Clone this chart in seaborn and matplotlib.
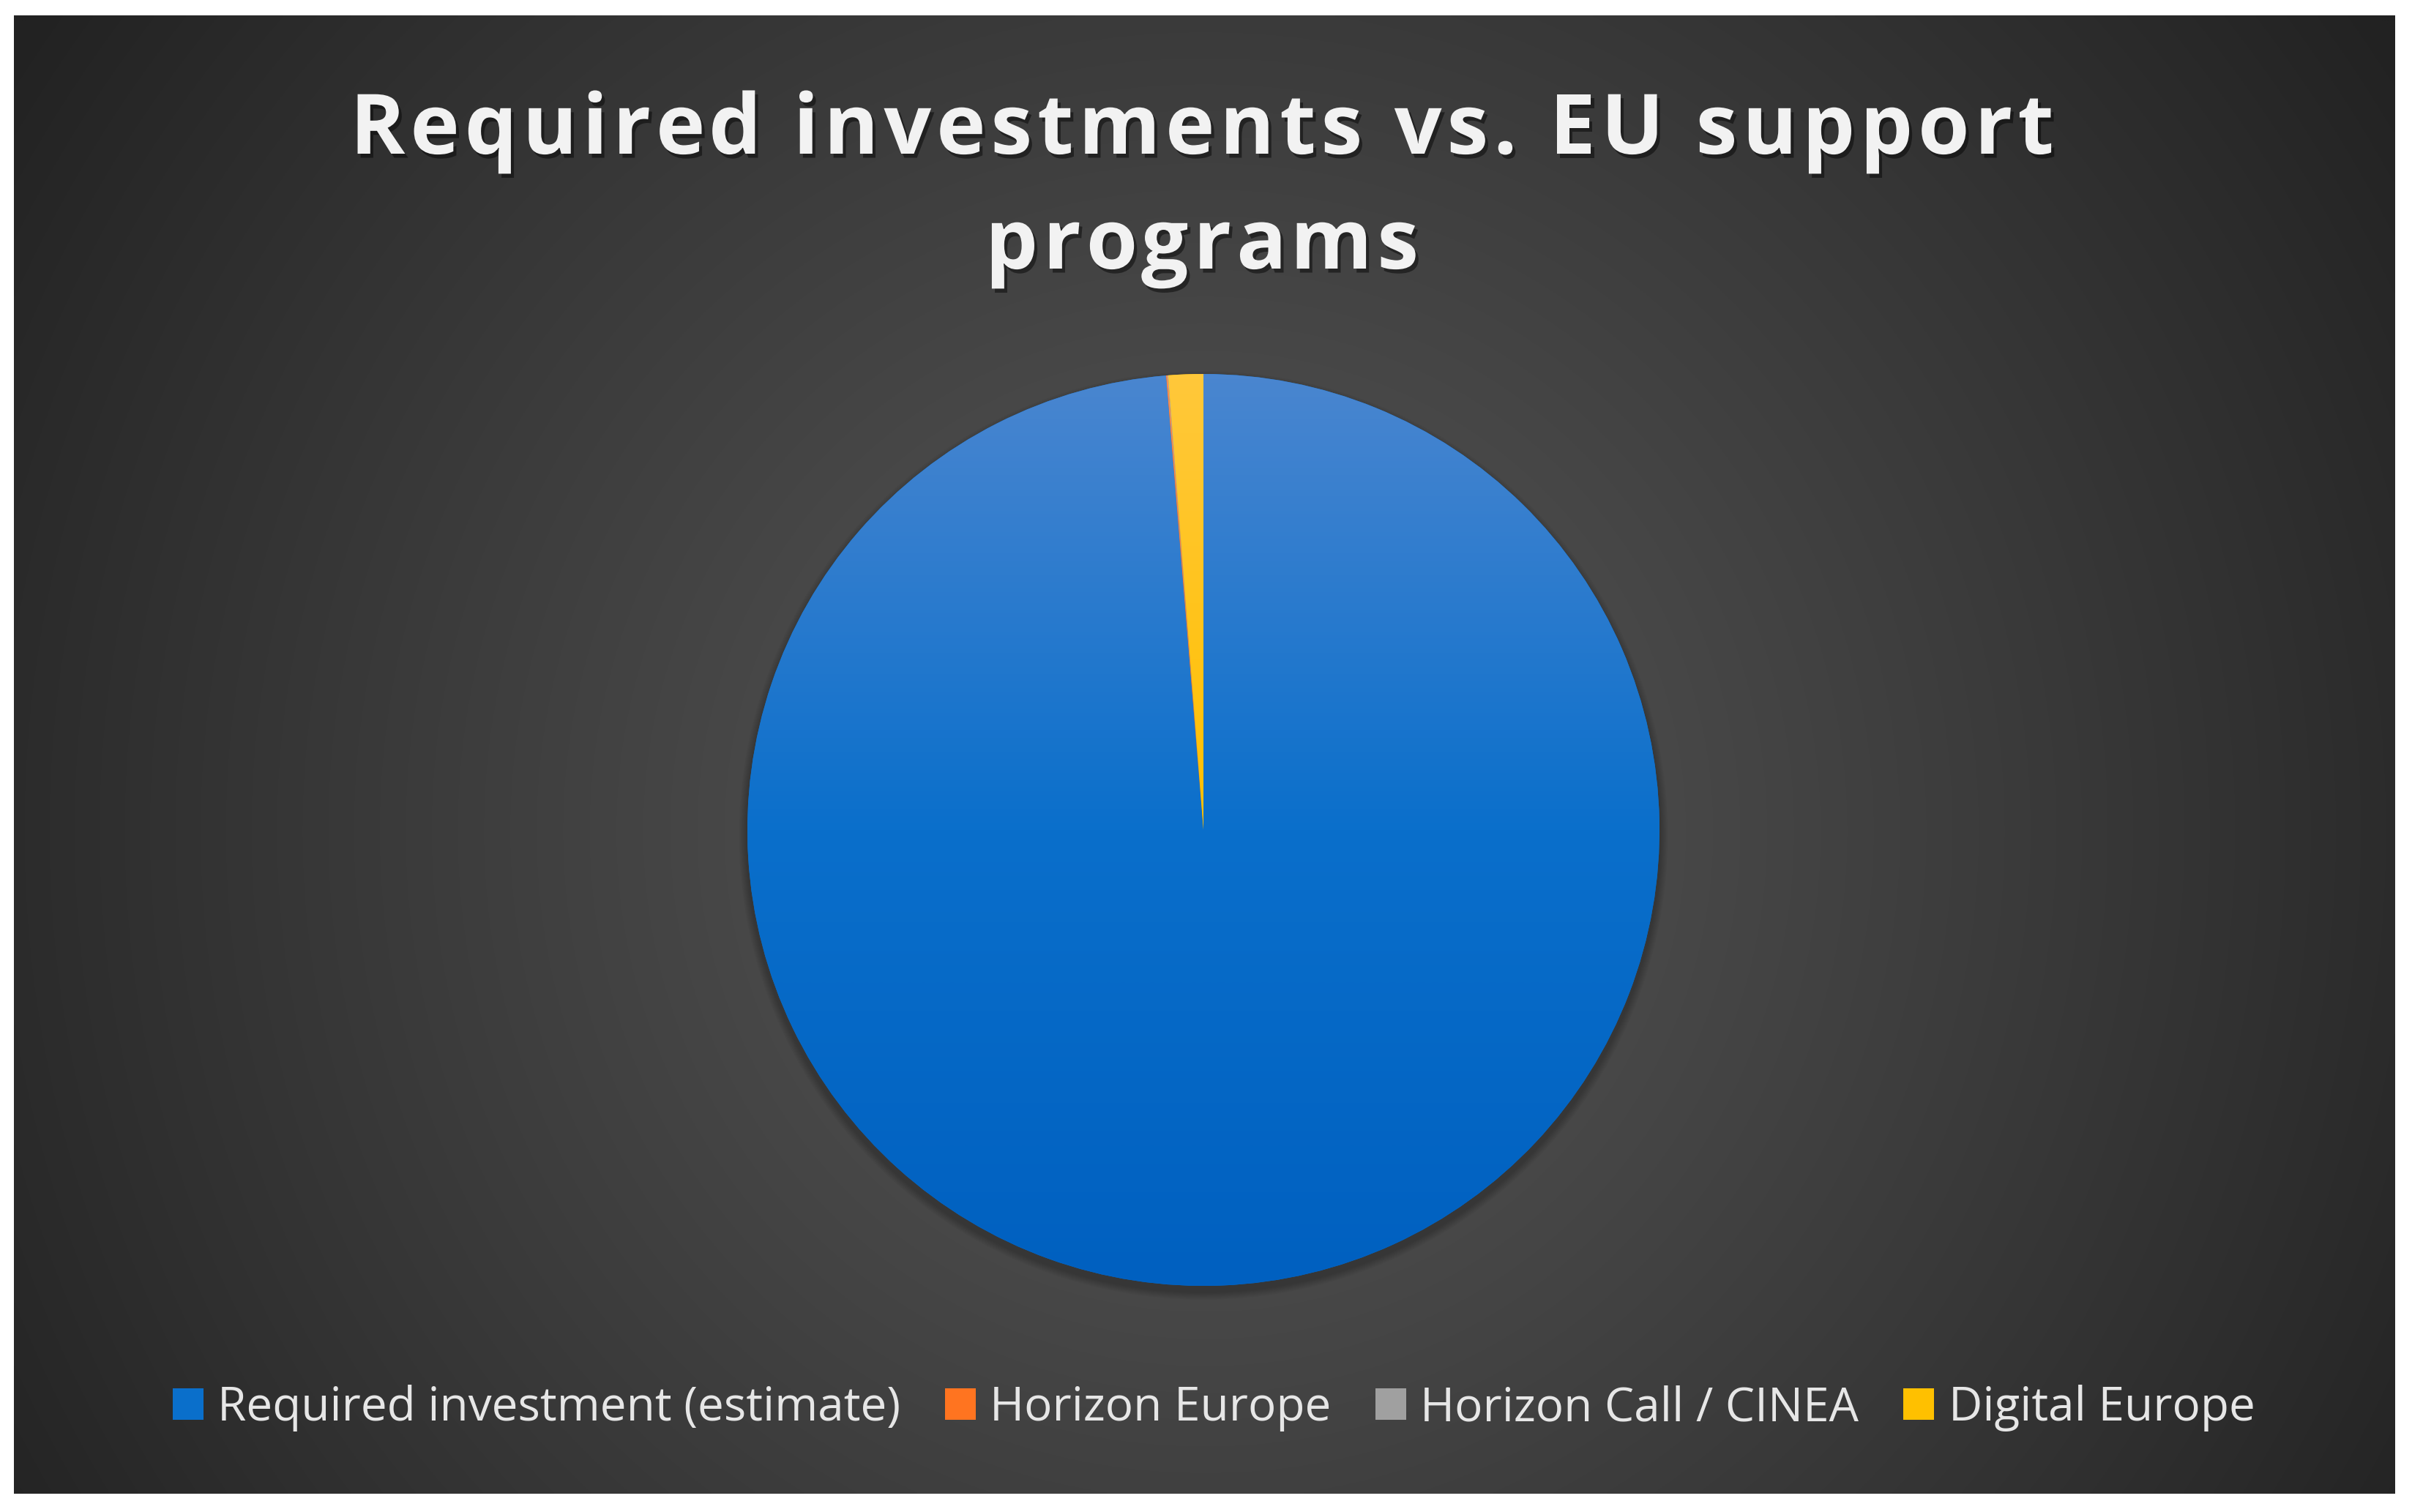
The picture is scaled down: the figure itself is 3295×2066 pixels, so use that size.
import numpy as np
import matplotlib
matplotlib.use("Agg")
import matplotlib.pyplot as plt
import matplotlib.patheffects as pe
from matplotlib.patches import Circle
from matplotlib.font_manager import FontProperties
import seaborn as sns

# ---------------- data ----------------
categories = ["Required investment (estimate)", "Horizon Europe",
              "Horizon Call / CINEA", "Digital Europe"]
values_bn = [400.0, 0.2, 0.08, 5.0]
title_lines = ["Required investments vs. EU support", "programs"]

# gradient colours per slice: (top, middle, bottom)
slice_colors = [
    ["#4a86d0", "#0a6fcb", "#0060c0"],
    ["#ff8c4a", "#ff7420", "#ff6600"],
    ["#b4b4b4", "#a0a0a0", "#8c8c8c"],
    ["#ffc83a", "#ffc000", "#f2b400"],
]

sns.set_theme(style="dark")
plt.rcParams['font.family'] = ['Open Sans', 'DejaVu Sans']

W, H = 3295, 2066
fig = plt.figure(figsize=(W / 100, H / 100), dpi=100)
fig.patch.set_facecolor("white")

# ---------------- background ----------------
bg = fig.add_axes([0, 0, 1, 1])
yy, xx = np.mgrid[21:2041:4, 19:3271:4]
r = np.hypot(xx - 1644, yy - 1134) / 1950.0
r = np.clip(r, 0, 1)
lo, hi = 0x22 / 255, 0x57 / 255
v = hi + (lo - hi) * r ** 1.1
img = np.dstack([v, v, v])
bg.imshow(img, extent=(19, 3271, 2041, 21), origin="upper", aspect="auto",
          interpolation="bilinear")
bg.set_xlim(0, W)
bg.set_ylim(H, 0)
bg.axis("off")

# ---------------- pie ----------------
cx, cy, R = 1644, 1134, 623
ax = fig.add_axes([(cx - R) / W, 1 - (cy + R) / H, 2 * R / W, 2 * R / H])
ax.set_facecolor("none")
base = [c[1] for c in slice_colors]

# soft shadow
for k in range(1, 7):
    ax.add_patch(Circle((0, -0.012), 1 + k * 0.003, color="black",
                        alpha=0.035, lw=0, zorder=0, clip_on=False))

wedges, _ = ax.pie(values_bn, colors=base, startangle=90, counterclock=False,
                   radius=1, wedgeprops=dict(linewidth=0))
for w, cols in zip(wedges, slice_colors):
    w.set_zorder(1)
    cmap = matplotlib.colors.LinearSegmentedColormap.from_list("g", cols[::-1])
    grad = np.linspace(0, 1, 256).reshape(-1, 1)
    im = ax.imshow(grad, extent=(-1, 1, -1, 1), origin="lower", cmap=cmap,
                   aspect="auto", zorder=2, interpolation="bilinear")
    im.set_clip_path(w)
ax.set_xlim(-1, 1)
ax.set_ylim(-1, 1)
ax.axis("off")

# ---------------- title (letter-spaced) ----------------
shadow = [pe.SimplePatchShadow(offset=(3, -4), shadow_rgbFace="black", alpha=0.45),
          pe.Normal()]
renderer = fig.canvas.get_renderer()
fp = FontProperties(family=["Open Sans", "DejaVu Sans"], weight="bold", size=82)
spacing_px = 7.0


def spaced_text(s, xc_px, baseline_px):
    def width(t):
        if not t:
            return 0.0
        w, _, _ = renderer.get_text_width_height_descent(t, fp, ismath=False)
        return w
    total = width(s) + spacing_px * (len(s) - 1)
    x0 = xc_px - total / 2
    for i, ch in enumerate(s):
        if ch == " ":
            continue
        x = x0 + width(s[:i]) + spacing_px * i
        fig.text(x / W, 1 - baseline_px / H, ch, ha="left", va="baseline",
                 fontproperties=fp, color="#f2f2f2", path_effects=shadow)


spaced_text(title_lines[0], 1642, 210)
spaced_text(title_lines[1], 1642, 367)

# ---------------- legend ----------------
leg = fig.legend(wedges, categories, loc="center", ncol=4,
                 bbox_to_anchor=(1658 / W, 1 - 1924 / H), frameon=False,
                 fontsize=46, handlelength=0.66, handleheight=0.66,
                 handletextpad=0.3, columnspacing=0.95, borderpad=0)
for t in leg.get_texts():
    t.set_color("#e6e6e6")

fig.savefig("out.png", dpi=100, facecolor="white")
